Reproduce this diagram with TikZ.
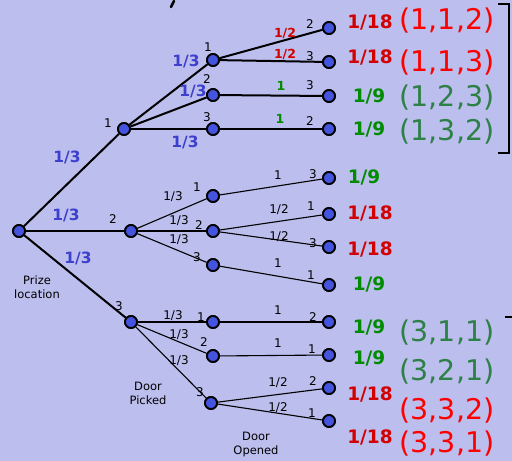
\documentclass[tikz,border=0pt]{standalone}
\usepackage{fontspec}
\setmainfont{DejaVu Sans}
\definecolor{bg}{RGB}{188,190,238}
\definecolor{nodeblue}{RGB}{68,84,222}
\definecolor{lblblue}{RGB}{60,64,205}
\definecolor{dred}{RGB}{210,0,0}
\definecolor{bred}{RGB}{255,0,0}
\definecolor{dgreen}{RGB}{0,140,0}
\definecolor{tgreen}{RGB}{45,128,70}
\tikzset{
  dot/.style={circle,draw=black,fill=nodeblue,line width=1.8pt,minimum size=12pt,inner sep=0pt},
  thickedge/.style={line width=2pt},
  thinedge/.style={line width=1.1pt},
  sm/.style={font=\fontsize{12}{13}\selectfont,inner sep=0pt},
  smc/.style={font=\fontsize{12.5}{13}\selectfont\bfseries,inner sep=0pt},
  bl/.style={font=\fontsize{15.5}{17}\selectfont\bfseries,text=lblblue,inner sep=0pt},
  prob/.style={font=\fontsize{18.5}{20}\selectfont\bfseries,inner sep=0pt},
  tup/.style={font=\fontsize{28.5}{30}\selectfont,inner sep=0pt},
  captext/.style={font=\fontsize{11.5}{14}\selectfont,align=center,inner sep=0pt}
}
\begin{document}
\begin{tikzpicture}[x=1pt,y=-1pt]
\fill[bg] (0,0) rectangle (512,461);
\useasboundingbox (0,0) rectangle (512,461);
% cut-off title stroke
\draw[line width=2.5pt,line cap=round] (174,1) -- (171,7);
% nodes
\node[dot] (R) at (19,231) {};
\node[dot] (A) at (124,129) {};
\node[dot] (B) at (131,231) {};
\node[dot] (C) at (131,322) {};
\node[dot] (A1) at (213,60) {};
\node[dot] (A2) at (213,95) {};
\node[dot] (A3) at (213,129) {};
\node[dot] (B1) at (213,196) {};
\node[dot] (B2) at (213,231) {};
\node[dot] (B3) at (213,265) {};
\node[dot] (C1) at (213,322) {};
\node[dot] (C2) at (213,356) {};
\node[dot] (C3) at (211,403) {};
\node[dot] (L1) at (329,28) {};
\node[dot] (L2) at (329,62) {};
\node[dot] (L3) at (329,96) {};
\node[dot] (L4) at (329,129) {};
\node[dot] (L5) at (329,178) {};
\node[dot] (L6) at (329,214) {};
\node[dot] (L7) at (329,247) {};
\node[dot] (L8) at (329,285) {};
\node[dot] (L9) at (329,322) {};
\node[dot] (L10) at (329,355) {};
\node[dot] (L11) at (329,388) {};
\node[dot] (L12) at (329,421) {};
% edges
\draw[thickedge] (R) -- (A);
\draw[thickedge] (R) -- (B);
\draw[thickedge] (R) -- (C);
\draw[thickedge] (A) -- (A1);
\draw[thickedge] (A) -- (A2);
\draw[thickedge] (A) -- (A3);
\draw[thickedge] (A1) -- (L1);
\draw[thickedge] (A1) -- (L2);
\draw[thickedge] (A2) -- (L3);
\draw[thickedge] (A3) -- (L4);
\draw[thinedge] (B) -- (B1);
\draw[thinedge] (B) -- (B2);
\draw[thinedge] (B) -- (B3);
\draw[thinedge] (B1) -- (L5);
\draw[thinedge] (B2) -- (L6);
\draw[thinedge] (B2) -- (L7);
\draw[thinedge] (B3) -- (L8);
\draw[thinedge] (C) -- (C1);
\draw[thinedge] (C) -- (C2);
\draw[thinedge] (C) -- (C3);
\draw[thinedge] (C1) -- (L9);
\draw[thinedge] (C2) -- (L10);
\draw[thinedge] (C3) -- (L11);
\draw[thinedge] (C3) -- (L12);
% redraw nodes on top
\foreach \n in {R,A,B,C,A1,A2,A3,B1,B2,B3,C1,C2,C3,L1,L2,L3,L4,L5,L6,L7,L8,L9,L10,L11,L12}
  \node[dot] at (\n) {};
% blue labels
\node[bl] (b1) at (67,157) {1/3};
\node[bl] (b2) at (66,215) {1/3};
\node[bl] (b3) at (78,258) {1/3};
\node[bl] (b4) at (186,61) {1/3};
\node[bl] (b5) at (193,91) {1/3};
\node[bl] (b6) at (185,142) {1/3};
% small black labels, top
\node[sm] (t1) at (108,123) {1};
\node[sm] (t2) at (208,47) {1};
\node[sm] (t3) at (207,79) {2};
\node[sm] (t4) at (207,117) {3};
\node[smc,text=dred] (t5) at (285,33) {1/2};
\node[sm] (t6) at (310,24) {2};
\node[smc,text=dred] (t7) at (285,54) {1/2};
\node[sm] (t8) at (310,56) {3};
\node[smc,text=dgreen] (t9) at (281,86) {1};
\node[sm] (t10) at (310,85) {3};
\node[smc,text=dgreen] (t11) at (280,119) {1};
\node[sm] (t12) at (310,121) {2};
% middle
\node[sm] (m1) at (113,219) {2};
\node[sm] (m2) at (173,197) {1/3};
\node[sm] (m3) at (197,187) {1};
\node[sm] (m4) at (179,221) {1/3};
\node[sm] (m5) at (199,225) {2};
\node[sm] (m6) at (179,240) {1/3};
\node[sm] (m7) at (197,257) {3};
\node[sm] (m8) at (278,175) {1};
\node[sm] (m9) at (313,174) {3};
\node[sm] (m10) at (279,210) {1/2};
\node[sm] (m11) at (311,206) {1};
\node[sm] (m12) at (279,237) {1/2};
\node[sm] (m13) at (313,243) {3};
\node[sm] (m14) at (278,263) {1};
\node[sm] (m15) at (311,275) {1};
% bottom
\node[sm] (c1) at (119,306) {3};
\node[sm] (c2) at (173,316) {1/3};
\node[sm] (c3) at (201,317) {1};
\node[sm] (c4) at (179,335) {1/3};
\node[sm] (c5) at (204,342) {2};
\node[sm] (c6) at (179,361) {1/3};
\node[sm] (c7) at (200,392) {3};
\node[sm] (c8) at (278,310) {1};
\node[sm] (c9) at (313,317) {2};
\node[sm] (c10) at (278,343) {1};
\node[sm] (c11) at (312,349) {1};
\node[sm] (c12) at (278,383) {1/2};
\node[sm] (c13) at (313,381) {2};
\node[sm] (c14) at (278,408) {1/2};
\node[sm] (c15) at (312,413) {1};
% captions
\node[captext] (cp1) at (37,287) {Prize\\location};
\node[captext] (cp2) at (148,393) {Door\\Picked};
\node[captext] (cp3) at (256,444) {Door\\Opened};
% probabilities
\node[prob,text=dred] (p1) at (370,22) {1/18};
\node[prob,text=dred] (p2) at (370,57) {1/18};
\node[prob,text=dgreen] (p3) at (369,96) {1/9};
\node[prob,text=dgreen] (p4) at (369,129) {1/9};
\node[prob,text=dgreen] (p5) at (364,177) {1/9};
\node[prob,text=dred] (p6) at (370,213) {1/18};
\node[prob,text=dred] (p7) at (370,249) {1/18};
\node[prob,text=dgreen] (p8) at (369,284) {1/9};
\node[prob,text=dgreen] (p9) at (369,327) {1/9};
\node[prob,text=dgreen] (p10) at (369,358) {1/9};
\node[prob,text=dred] (p11) at (370,394) {1/18};
\node[prob,text=dred] (p12) at (370,437) {1/18};
% tuples
\node[tup,text=bred] (u1) at (447,21) {(1,1,2)};
\node[tup,text=bred] (u2) at (447,63) {(1,1,3)};
\node[tup,text=tgreen] (u3) at (447,98) {(1,2,3)};
\node[tup,text=tgreen] (u4) at (447,132) {(1,3,2)};
\node[tup,text=tgreen] (u5) at (447,333) {(3,1,1)};
\node[tup,text=tgreen] (u6) at (447,372) {(3,2,1)};
\node[tup,text=bred] (u7) at (447,411) {(3,3,2)};
\node[tup,text=bred] (u8) at (447,444) {(3,3,1)};
% bracket
\draw[line width=2pt] (498,4) -- (509,4) -- (509,153) -- (498,153);
\draw[line width=2pt] (505,317) -- (512,317);
\end{tikzpicture}
\end{document}
